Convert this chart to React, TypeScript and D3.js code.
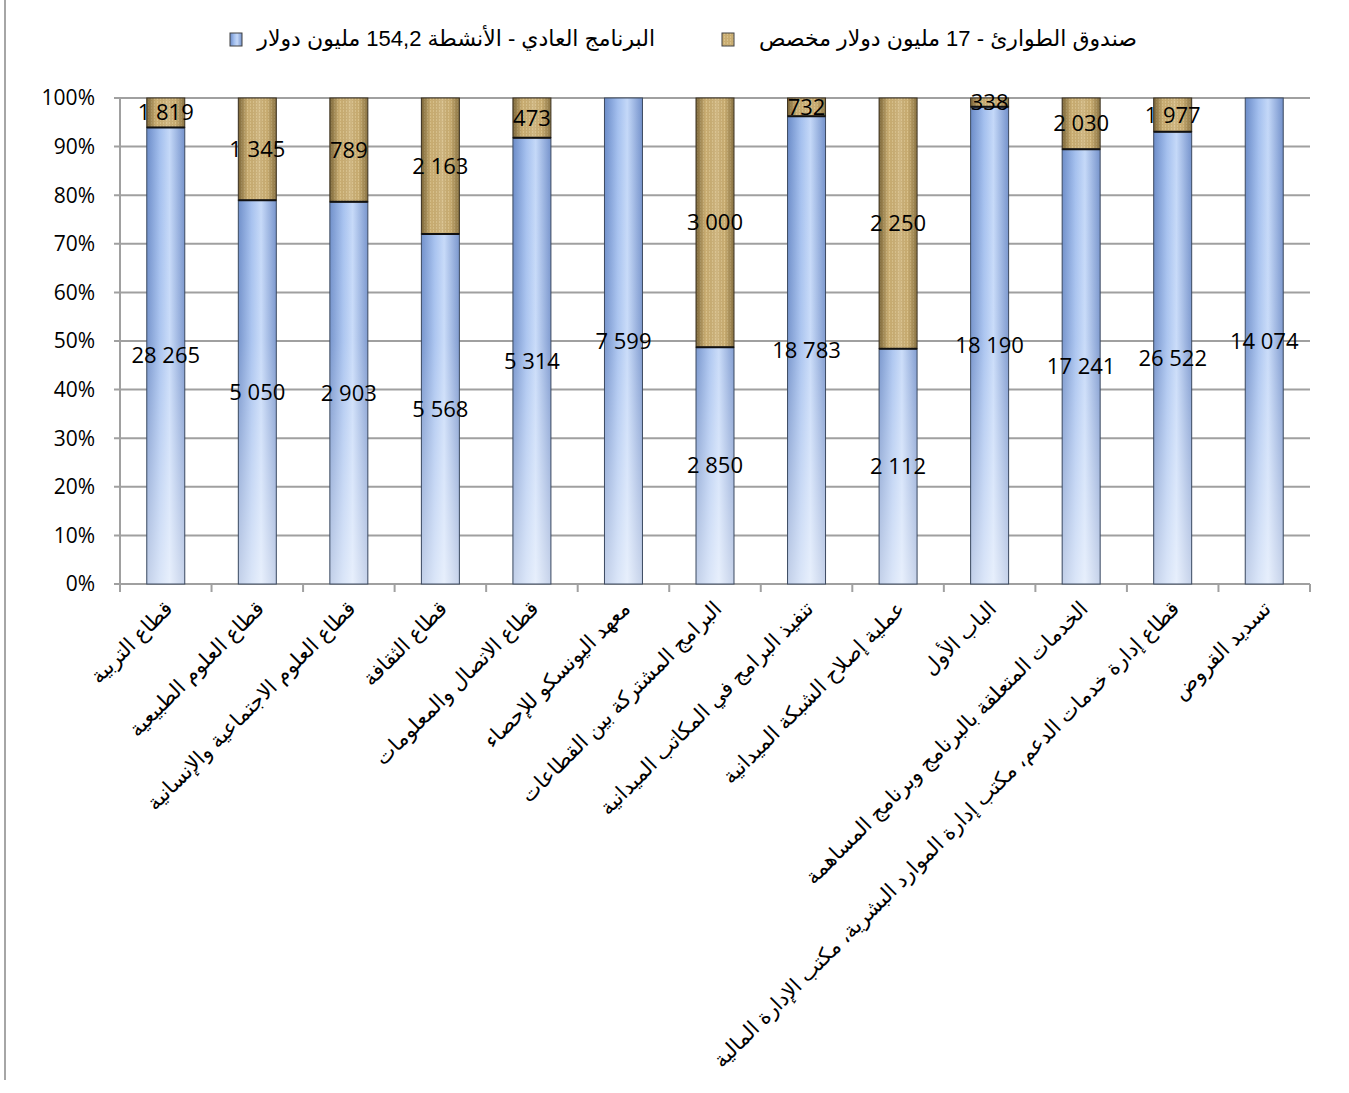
import React from 'react';
import * as d3 from 'd3';

const categories = [
  'قطاع التربية',
  'قطاع العلوم الطبيعية',
  'قطاع العلوم الاجتماعية والإنسانية',
  'قطاع الثقافة',
  'قطاع الاتصال والمعلومات',
  'معهد اليونسكو للإحصاء',
  'البرامج المشتركة بين القطاعات',
  'تنفيذ البرامج في المكاتب الميدانية',
  'عملية إصلاح الشبكة الميدانية',
  'الباب الأول',
  'الخدمات المتعلقة بالبرنامج وبرنامج المساهمة',
  'قطاع إدارة خدمات الدعم، مكتب إدارة الموارد البشرية، مكتب الإدارة المالية',
  'تسديد القروض',
];

// البرنامج العادي - الأنشطة
const regularValues = [28265, 5050, 2903, 5568, 5314, 7599, 2850, 18783, 2112, 18190, 17241, 26522, 14074];
// صندوق الطوارئ
const emergencyValues = [1819, 1345, 789, 2163, 473, 0, 3000, 732, 2250, 338, 2030, 1977, 0];

const legendLabels = [
  'البرنامج العادي - الأنشطة 154,2 مليون دولار',
  'صندوق الطوارئ - 17 مليون دولار مخصص',
];

const yTicks = [0, 0.1, 0.2, 0.3, 0.4, 0.5, 0.6, 0.7, 0.8, 0.9, 1];

const W = 1349;
const H = 1093;
const margin = { top: 98, right: 39, bottom: 509, left: 120 };
const innerW = W - margin.left - margin.right;
const innerH = H - margin.top - margin.bottom;

const fmtNum = (v: number) => d3.format(',')(v).replace(/,/g, ' ');
const fmtPct = d3.format('.0%');

const App: React.FC = () => {
  const x = d3.scaleBand<string>().domain(categories).range([0, innerW]).padding(0);
  const y = d3.scaleLinear().domain([0, 1]).range([innerH, 0]);
  const barW = x.bandwidth() * 0.415;

  const rows = categories.map((c, i) => {
    const total = regularValues[i] + emergencyValues[i];
    return {
      cat: c,
      reg: regularValues[i],
      emg: emergencyValues[i],
      regShare: regularValues[i] / total,
      emgShare: emergencyValues[i] / total,
    };
  });

  const labelFont = '"Open Sans", "DejaVu Sans", sans-serif';
  const arabicFont = '"Liberation Sans", "DejaVu Sans", sans-serif';

  return (
    <svg width={W} height={H} style={{ position: 'absolute', left: 0, top: 0, display: 'block', background: '#fff' }}>
      <defs>
        <linearGradient id="blueBase" x1="0" x2="1" y1="0" y2="0">
          <stop offset="0" stopColor="#6a8bc8" />
          <stop offset="0.35" stopColor="#a3bfee" />
          <stop offset="0.6" stopColor="#c4d8f8" />
          <stop offset="1" stopColor="#7391cb" />
        </linearGradient>
        <linearGradient id="blueFade" gradientUnits="userSpaceOnUse" x1="0" x2="0" y1={0} y2={innerH}>
          <stop offset="0" stopColor="#fff" stopOpacity="0" />
          <stop offset="0.5" stopColor="#fff" stopOpacity="0.1" />
          <stop offset="1" stopColor="#fff" stopOpacity="0.6" />
        </linearGradient>
        <pattern id="tanDots" width="3" height="3" patternUnits="userSpaceOnUse">
          <rect width="3" height="3" fill="#c9ad72" />
          <rect x="1" y="0" width="1" height="2" fill="#d8c08a" />
        </pattern>
        <linearGradient id="edgeShade" x1="0" x2="1" y1="0" y2="0">
          <stop offset="0" stopColor="#3a2a08" stopOpacity="0.55" />
          <stop offset="0.25" stopColor="#3a2a08" stopOpacity="0" />
          <stop offset="0.55" stopColor="#fff" stopOpacity="0.12" />
          <stop offset="0.75" stopColor="#3a2a08" stopOpacity="0" />
          <stop offset="1" stopColor="#3a2a08" stopOpacity="0.45" />
        </linearGradient>
      </defs>

      {/* outer frame line on the left */}
      <line x1={5} x2={5} y1={0} y2={1080} stroke="#a6a6a6" strokeWidth={2} />

      {/* legend */}
      <g fontFamily={arabicFont} fontSize={22} fill="#000">
        <rect x={230} y={33} width={12} height={13} fill="url(#blueBase)" stroke="#404040" strokeWidth={1} />
        <text x={655} y={46} direction="rtl" textAnchor="start">{legendLabels[0]}</text>
        <rect x={722} y={33} width={12} height={13} fill="url(#tanDots)" stroke="#404040" strokeWidth={1} />
        <text x={1137} y={46} direction="rtl" textAnchor="start">{legendLabels[1]}</text>
      </g>

      <g transform={`translate(${margin.left},${margin.top})`}>
        {/* gridlines + y ticks */}
        {yTicks.map(t => (
          <g key={t}>
            <line x1={-6} x2={innerW} y1={y(t)} y2={y(t)} stroke="#a0a0a0" strokeWidth={2} />
            <text x={-25} y={y(t)} dy="0.35em" textAnchor="end" fontFamily={labelFont} fontSize={21} fill="#000">
              {fmtPct(t)}
            </text>
          </g>
        ))}
        <line x1={0} x2={0} y1={0} y2={innerH} stroke="#a0a0a0" strokeWidth={2} />

        {/* x ticks */}
        {categories.map(c => (
          <line key={c} x1={x(c)!} x2={x(c)!} y1={innerH} y2={innerH + 8} stroke="#a0a0a0" strokeWidth={2} />
        ))}
        <line x1={innerW} x2={innerW} y1={innerH} y2={innerH + 8} stroke="#a0a0a0" strokeWidth={2} />

        {/* bars */}
        {rows.map(r => {
          const cx = x(r.cat)! + x.bandwidth() / 2;
          const bx = cx - barW / 2;
          const yReg = y(r.regShare);
          const yTop = y(r.regShare + r.emgShare);
          return (
            <g key={r.cat}>
              <rect x={bx} y={yReg} width={barW} height={innerH - yReg} fill="url(#blueBase)" />
              <rect x={bx} y={yReg} width={barW} height={innerH - yReg} fill="url(#blueFade)" />
              <rect x={bx} y={yReg} width={barW} height={innerH - yReg} fill="none" stroke="#3c4a60" strokeWidth={1} />
              {r.emg > 0 && (
                <g>
                  <rect x={bx} y={yTop} width={barW} height={yReg - yTop} fill="url(#tanDots)" />
                  <rect x={bx} y={yTop} width={barW} height={yReg - yTop} fill="url(#edgeShade)" />
                  <rect x={bx} y={yTop} width={barW} height={yReg - yTop} fill="none" stroke="#3a3020" strokeWidth={1} />
                  <line x1={bx} x2={bx + barW} y1={yReg} y2={yReg} stroke="#111" strokeWidth={2} />
                </g>
              )}
            </g>
          );
        })}

        {/* data labels */}
        {rows.map(r => {
          const cx = x(r.cat)! + x.bandwidth() / 2;
          return (
            <g key={`lbl-${r.cat}`} fontFamily={labelFont} fontSize={22} fill="#000" textAnchor="middle">
              <text x={cx} y={y(r.regShare / 2)} dy="0.35em">{fmtNum(r.reg)}</text>
              {r.emg > 0 && (
                <text x={cx} y={y(r.regShare + r.emgShare / 2)} dy="0.35em">{fmtNum(r.emg)}</text>
              )}
            </g>
          );
        })}

        {/* category labels */}
        {categories.map(c => {
          const cx = x(c)! + x.bandwidth() / 2;
          return (
            <text
              key={`cat-${c}`}
              transform={`translate(${cx + 8},${innerH + 26}) rotate(-45)`}
              direction="rtl"
              textAnchor="start"
              fontFamily={arabicFont}
              fontSize={21}
              fill="#000"
            >
              {c}
            </text>
          );
        })}
      </g>
    </svg>
  );
};

export default App;
